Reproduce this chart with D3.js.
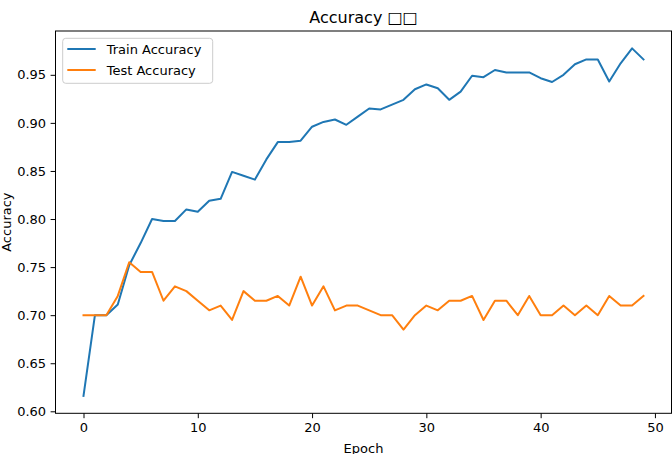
<!DOCTYPE html>
<html>
<head>
<meta charset="utf-8">
<script src="https://cdn.jsdelivr.net/npm/d3@7"></script>
<style>
    html, body { margin: 0; padding: 0; background: #fff; }
    #chart { width: 672px; height: 454px; overflow: hidden; }
</style>
</head>
<body>
<div id="chart"></div>
<script>
const epochs = d3.range(0, 50);

const trainAccuracy = [
    0.616, 0.700, 0.700, 0.711, 0.752, 0.775, 0.800, 0.798, 0.798, 0.810,
    0.8075, 0.819, 0.821, 0.849, 0.845, 0.841, 0.862, 0.880, 0.880, 0.8815,
    0.896, 0.901, 0.9035, 0.898, 0.9065, 0.915, 0.914, 0.919, 0.924, 0.935,
    0.940, 0.936, 0.924, 0.9325, 0.949, 0.9475, 0.955, 0.9525, 0.9525, 0.9525,
    0.9465, 0.9425, 0.950, 0.961, 0.966, 0.966, 0.943, 0.962, 0.9775, 0.966
];

const testAccuracy = [
    0.700, 0.700, 0.700, 0.720, 0.755, 0.745, 0.745, 0.715, 0.730, 0.725,
    0.715, 0.705, 0.710, 0.695, 0.725, 0.715, 0.715, 0.720, 0.710, 0.740,
    0.710, 0.730, 0.705, 0.710, 0.710, 0.705, 0.700, 0.700, 0.685, 0.700,
    0.710, 0.705, 0.715, 0.715, 0.720, 0.695, 0.715, 0.715, 0.700, 0.720,
    0.700, 0.700, 0.710, 0.700, 0.710, 0.700, 0.720, 0.710, 0.710, 0.720
];

const seriesNames = ["Train Accuracy", "Test Accuracy"];
const seriesColors = ["#1f77b4", "#ff7f0e"];
const xTicks = [0, 10, 20, 30, 40, 50];
const yTicks = [0.60, 0.65, 0.70, 0.75, 0.80, 0.85, 0.90, 0.95];
const title = "Accuracy \u25A1\u25A1";

const width = 672, height = 454;
const margin = {top: 31, right: 0.5, bottom: 40.7, left: 55.5};
const fontFamily = "'DejaVu Sans', sans-serif";

// matplotlib style 5% padding around data
function padded(min, max) {
    const pad = (max - min) * 0.05;
    return [min - pad, max + pad];
}

const svg = d3.select('#chart')
    .append('svg')
    .attr('width', width)
    .attr('height', height)
    .style('font-family', fontFamily);

const x = d3.scaleLinear()
    .domain(padded(0, 49))
    .range([margin.left, width - margin.right]);

const allValues = trainAccuracy.concat(testAccuracy);
const y = d3.scaleLinear()
    .domain(padded(d3.min(allValues), d3.max(allValues)))
    .range([height - margin.bottom, margin.top]);

// axes
const xAxis = svg.append('g')
    .attr('transform', `translate(0,${height - margin.bottom})`)
    .call(d3.axisBottom(x).tickValues(xTicks).tickSize(4.9).tickPadding(4.5).tickFormat(d3.format('d')));

const yAxis = svg.append('g')
    .attr('transform', `translate(${margin.left},0)`)
    .call(d3.axisLeft(y).tickValues(yTicks).tickSize(4.9).tickPadding(4.5).tickFormat(d3.format('.2f')));

[xAxis, yAxis].forEach(ax => {
    ax.select('.domain').remove();
    ax.selectAll('.tick line').attr('stroke', '#000').attr('stroke-width', 1);
    ax.selectAll('.tick text')
        .attr('fill', '#000')
        .style('font-family', fontFamily)
        .style('font-size', '13px');
});

// lines
const line = d3.line()
    .x((d, i) => x(epochs[i]))
    .y(d => y(d));

[trainAccuracy, testAccuracy].forEach((series, i) => {
    svg.append('path')
        .datum(series)
        .attr('fill', 'none')
        .attr('stroke', seriesColors[i])
        .attr('stroke-width', 2)
        .attr('stroke-linejoin', 'round')
        .attr('stroke-linecap', 'square')
        .attr('d', line);
});

// frame
svg.append('rect')
    .attr('x', margin.left)
    .attr('y', margin.top)
    .attr('width', width - margin.left - margin.right)
    .attr('height', height - margin.top - margin.bottom)
    .attr('fill', 'none')
    .attr('stroke', '#000')
    .attr('stroke-width', 1);

// title and axis labels
svg.append('text')
    .attr('x', (margin.left + width - margin.right) / 2)
    .attr('y', 23)
    .attr('text-anchor', 'middle')
    .attr('font-size', '16px')
    .attr('fill', '#000')
    .text(title);

svg.append('text')
    .attr('x', (margin.left + width - margin.right) / 2)
    .attr('y', 452.5)
    .attr('text-anchor', 'middle')
    .attr('font-size', '13px')
    .attr('fill', '#000')
    .text('Epoch');

svg.append('text')
    .attr('transform', `translate(11,${(margin.top + height - margin.bottom) / 2}) rotate(-90)`)
    .attr('text-anchor', 'middle')
    .attr('font-size', '13px')
    .attr('fill', '#000')
    .text('Accuracy');

// legend
const legend = svg.append('g')
    .attr('transform', `translate(${margin.left + 7.2},${margin.top + 7.3})`);

legend.append('rect')
    .attr('width', 150)
    .attr('height', 45)
    .attr('rx', 3)
    .attr('fill', 'rgba(255,255,255,0.8)')
    .attr('stroke', '#ccc')
    .attr('stroke-width', 1);

seriesNames.forEach((name, i) => {
    const row = legend.append('g')
        .attr('transform', `translate(0,${10.7 + i * 21})`);
    row.append('line')
        .attr('x1', 4.6)
        .attr('x2', 33)
        .attr('stroke', seriesColors[i])
        .attr('stroke-width', 2);
    row.append('text')
        .attr('x', 44)
        .attr('y', 4.6)
        .attr('font-size', '13px')
        .attr('fill', '#000')
        .text(name);
});
</script>
</body>
</html>
